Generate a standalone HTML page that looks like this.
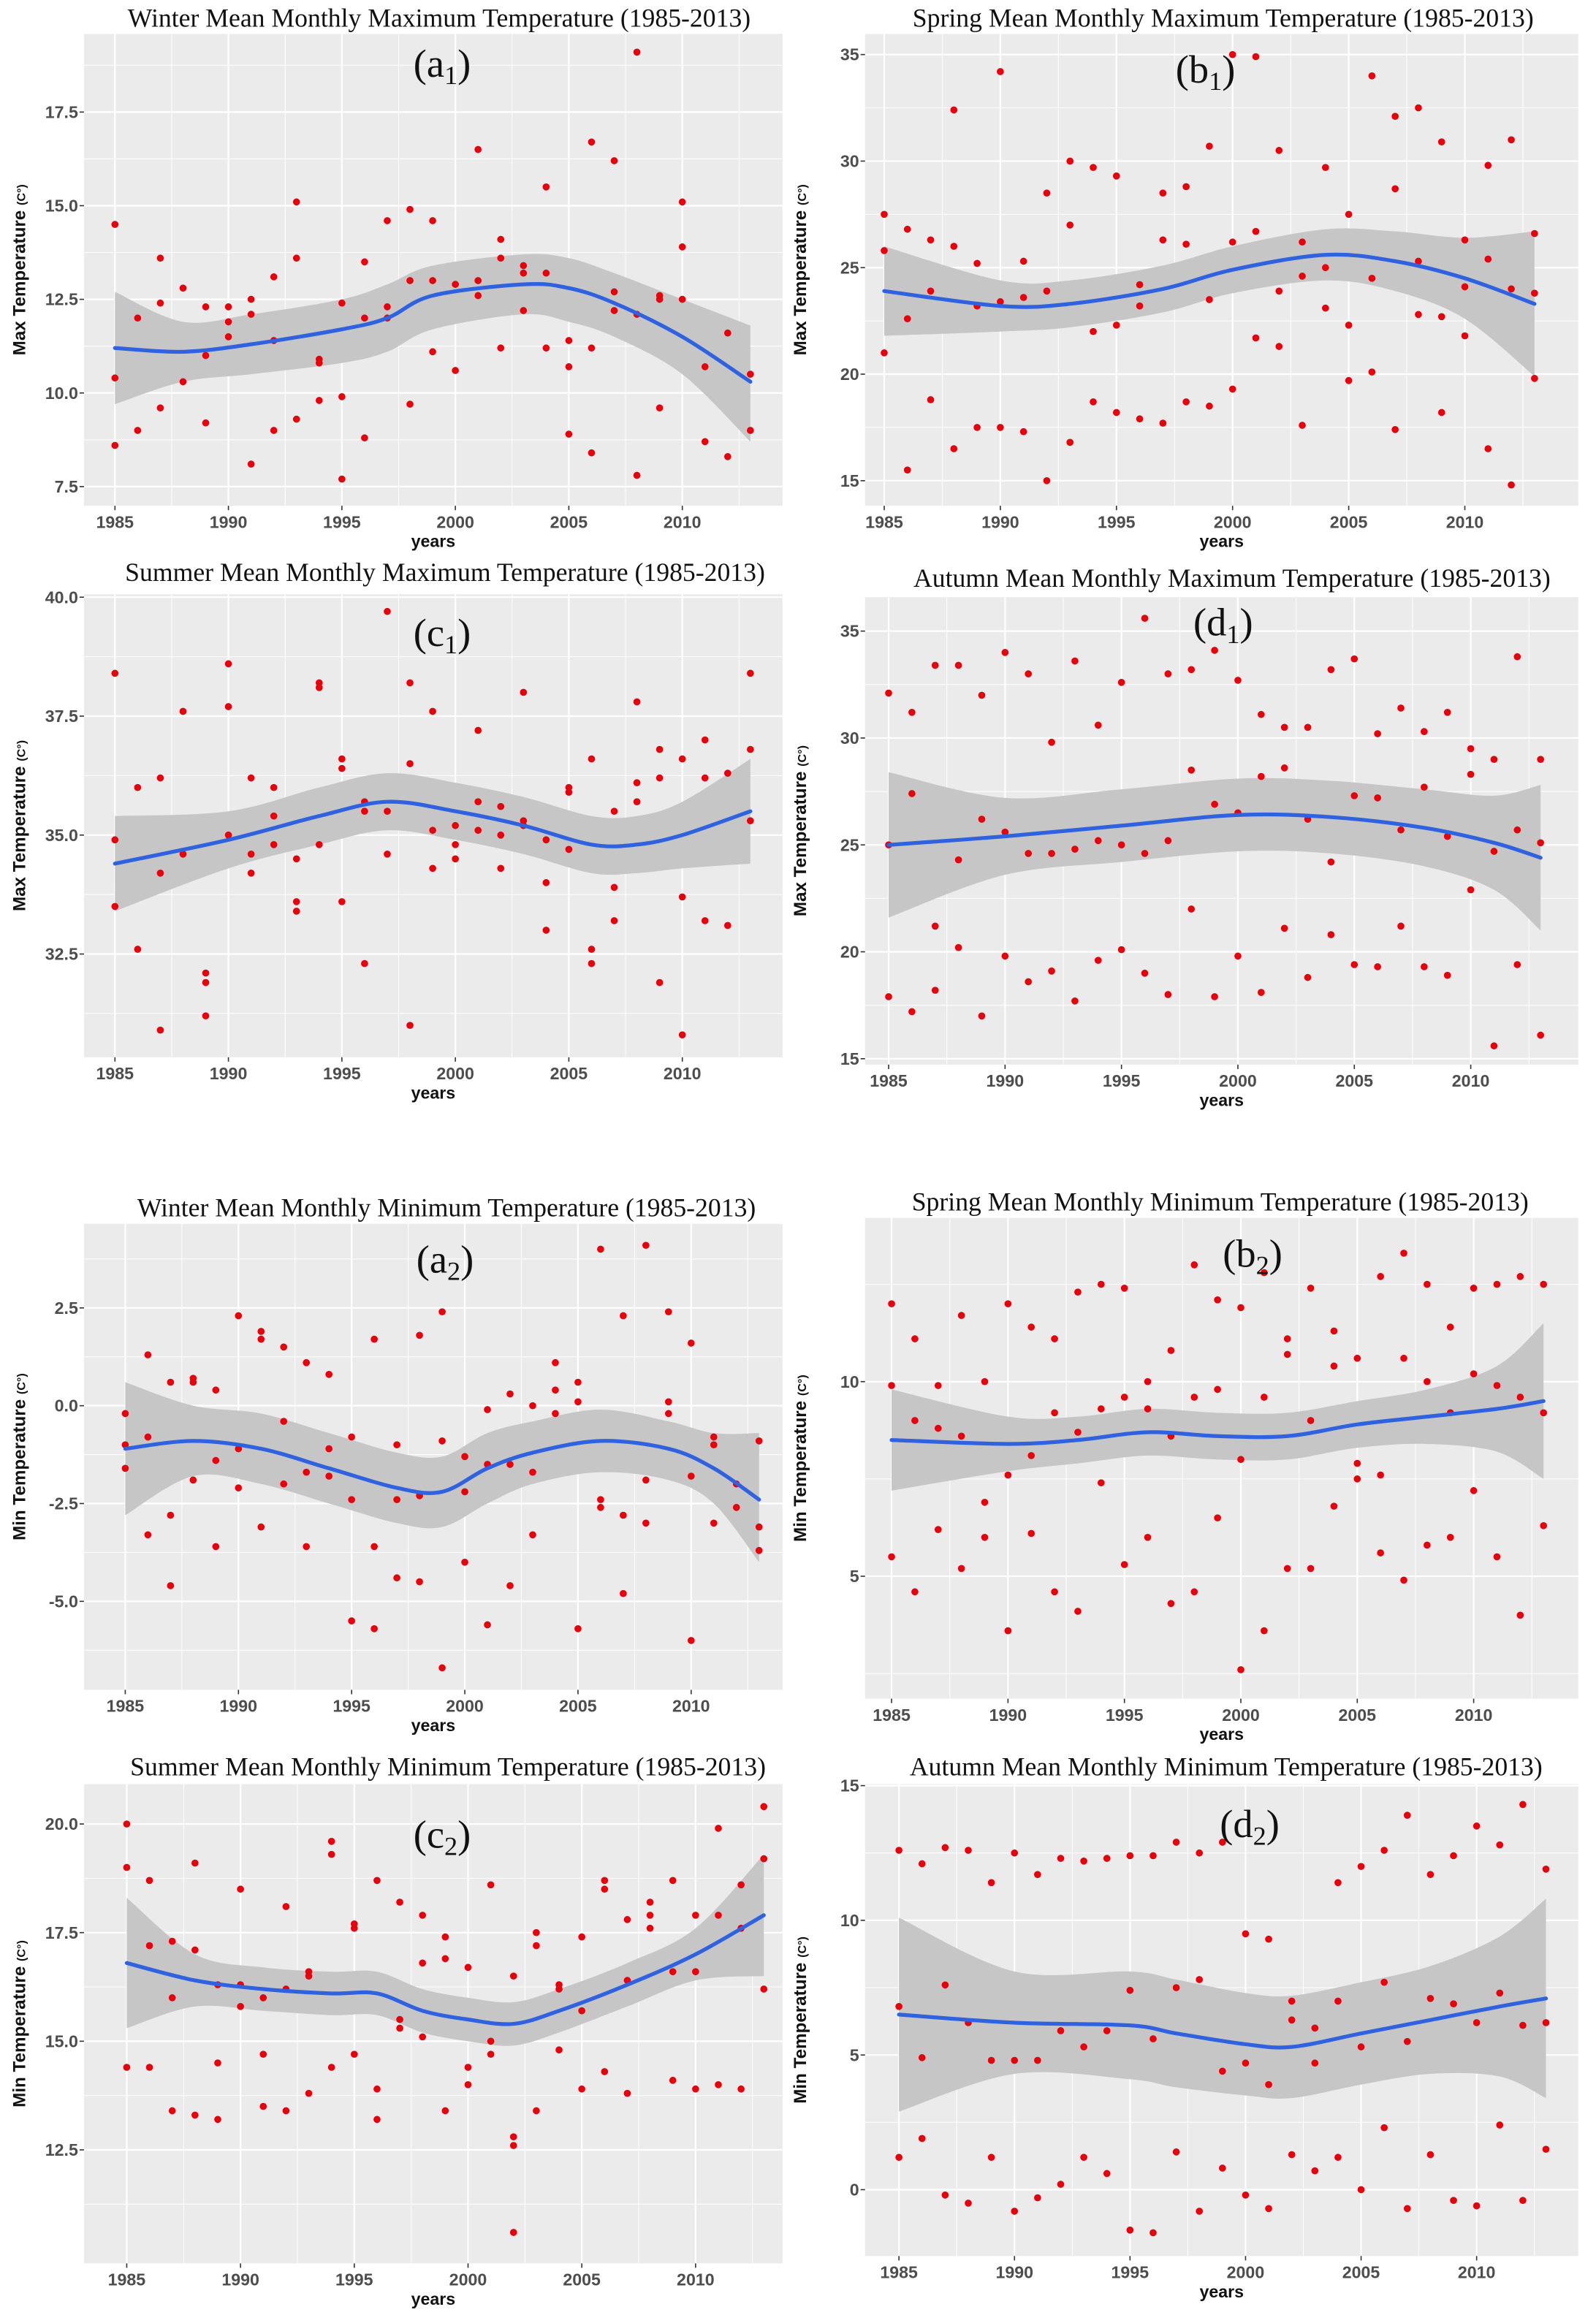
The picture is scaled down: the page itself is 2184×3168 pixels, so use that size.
<!DOCTYPE html>
<html><head><meta charset="utf-8">
<style>
html,body{margin:0;padding:0;background:#fff;}
svg{display:block;}
.title{font-family:"Liberation Serif",serif;font-size:17.7px;fill:#111;}
.plab{font-family:"Liberation Serif",serif;font-size:27px;fill:#111;}
.tick{font-family:"Liberation Sans",sans-serif;font-size:11.5px;font-weight:bold;fill:#4d4d4d;}
.axt{font-family:"Liberation Sans",sans-serif;font-size:11.5px;font-weight:bold;fill:#111;}
.yt{font-family:"Liberation Sans",sans-serif;font-size:12px;font-weight:bold;fill:#111;}
</style></head>
<body>
<svg id="fig" width="2184" height="3168" viewBox="0 0 1083 1570" preserveAspectRatio="none" xmlns="http://www.w3.org/2000/svg"></svg>
<script>
// ---- data (values per year, index = year-1985) ----
const years = [1985,1986,1987,1988,1989,1990,1991,1992,1993,1994,1995,1996,1997,1998,1999,2000,2001,2002,2003,2004,2005,2006,2007,2008,2009,2010,2011,2012,2013];
const a1Vals = [[14.5,10.4,8.6],[12.0,9.0],[13.6,12.4,9.6],[12.8,10.3],[12.3,11.0,9.2],[12.3,11.9,11.5],[12.5,12.1,8.1],[13.1,11.4,9.0],[15.1,13.6,9.3],[10.9,10.8,9.8],[12.4,9.9,7.7],[13.5,12.0,8.8],[14.6,12.3,12.0],[14.9,13.0,9.7],[14.6,13.0,11.1],[12.9,10.6],[16.5,13.0,12.6],[14.1,13.6,11.2],[13.4,13.2,12.2],[15.5,13.2,11.2],[11.4,10.7,8.9],[16.7,11.2,8.4],[16.2,12.7,12.2],[19.1,12.1,7.8],[12.6,12.5,9.6],[15.1,13.9,12.5],[10.7,8.7],[11.6,8.3],[10.5,9.0]];
const a1FitX = [1985,1988,1991,1995,1997,1999,2003,2005,2007,2010,2013];
const a1Fit  = [11.2,11.1,11.3,11.7,12.0,12.6,12.9,12.8,12.4,11.5,10.3];
const a1Lo   = [9.7,10.3,10.5,10.8,11.1,11.7,12.1,11.9,11.5,10.5,8.7];
const a1Hi   = [12.7,11.9,12.1,12.5,12.9,13.4,13.7,13.6,13.2,12.5,11.8];

const b1Vals = [[27.5,25.8,21.0],[26.8,22.6,15.5],[26.3,23.9,18.8],[32.4,26.0,16.5],[25.2,23.2,17.5],[34.2,23.4,17.5],[25.3,23.6,17.3],[28.5,23.9,15.0],[30.0,27.0,16.8],[29.7,22.0,18.7],[29.3,22.3,18.2],[24.2,23.2,17.9],[28.5,26.3,17.7],[28.8,26.1,18.7],[30.7,23.5,18.5],[35.0,26.2,19.3],[34.9,26.7,21.7],[30.5,23.9,21.3],[26.2,24.6,17.6],[29.7,25.0,23.1],[27.5,22.3,19.7],[34.0,24.5,20.1],[32.1,28.7,17.4],[32.5,25.3,22.8],[30.9,22.7,18.2],[26.3,24.1,21.8],[29.8,25.4,16.5],[31.0,24.0,14.8],[26.6,23.8,19.8]];
const b1FitX = [1985,1990,1993,1997,2000,2004,2007,2010,2013];
const b1Fit  = [23.9,23.2,23.3,24.0,24.9,25.6,25.3,24.5,23.3];
const b1Lo   = [21.8,22.0,22.2,22.9,23.8,24.4,23.9,22.6,19.9];
const b1Hi   = [26.0,24.4,24.4,25.1,26.0,26.8,26.7,26.4,26.7];

const c1Vals = [[38.4,34.9,33.5],[36.0,32.6],[36.2,34.2,30.9],[37.6,34.6],[32.1,31.9,31.2],[38.6,37.7,35.0],[36.2,34.6,34.2],[36.0,35.4,34.8],[34.5,33.6,33.4],[38.2,38.1,34.8],[36.6,36.4,33.6],[35.7,35.5,32.3],[39.7,35.5,34.6],[38.2,36.5,31.0],[37.6,35.1,34.3],[35.2,34.8,34.5],[37.2,35.7,35.1],[35.6,35.0,34.3],[38.0,35.3,35.2],[34.9,34.0,33.0],[36.0,35.9,34.7],[36.6,32.6,32.3],[35.5,33.9,33.2],[37.8,36.1,35.7],[36.8,36.2,31.9],[36.6,33.7,30.8],[37.0,36.2,33.2],[36.3,33.1],[38.4,36.8,35.3]];
const c1FitX = [1985,1990,1994,1997,2000,2003,2006,2008,2010,2013];
const c1Fit  = [34.4,34.9,35.4,35.7,35.5,35.2,34.8,34.8,35.0,35.5];
const c1Lo   = [33.4,34.3,34.8,35.1,34.9,34.6,34.2,34.2,34.3,34.4];
const c1Hi   = [35.4,35.5,36.0,36.3,36.1,35.8,35.4,35.4,35.7,36.6];

const d1Vals = [[32.1,25.0,17.9],[31.2,27.4,17.2],[33.4,21.2,18.2],[33.4,24.3,20.2],[32.0,26.2,17.0],[34.0,25.6,19.8],[33.0,24.6,18.6],[29.8,24.6,19.1],[33.6,24.8,17.7],[30.6,25.2,19.6],[32.6,25.0,20.1],[35.6,24.6,19.0],[33.0,25.2,18.0],[33.2,28.5,22.0],[34.1,26.9,17.9],[32.7,26.5,19.8],[31.1,28.2,18.1],[30.5,28.6,21.1],[30.5,26.2,18.8],[33.2,24.2,20.8],[33.7,27.3,19.4],[30.2,27.2,19.3],[31.4,25.7,21.2],[30.3,27.7,19.3],[31.2,25.4,18.9],[29.5,28.3,22.9],[29.0,24.7,15.6],[33.8,25.7,19.4],[29.0,25.1,16.1]];
const d1FitX = [1985,1990,1995,2000,2004,2008,2011,2013];
const d1Fit  = [25.0,25.4,25.9,26.4,26.3,25.8,25.1,24.4];
const d1Lo   = [21.6,23.6,24.2,24.7,24.6,24.0,22.9,21.0];
const d1Hi   = [28.4,27.2,27.6,28.1,28.0,27.6,27.3,27.8];

const a2Vals = [[-0.2,-1.0,-1.6],[1.3,-3.3,-0.8],[0.6,-2.8,-4.6],[0.7,-1.9,0.6],[0.4,-1.4,-3.6],[2.3,-1.1,-2.1],[1.9,1.7,-3.1],[1.5,-0.4,-2.0],[1.1,-1.7,-3.6],[0.8,-1.1,-1.8],[-0.8,-2.4,-5.5],[1.7,-3.6,-5.7],[-1.0,-2.4,-4.4],[1.8,-2.3,-4.5],[2.4,-0.9,-6.7],[-1.3,-2.2,-4.0],[-0.1,-1.5,-5.6],[0.3,-1.5,-4.6],[0.0,-1.7,-3.3],[1.1,0.4,-0.2],[0.6,0.1,-5.7],[4.0,-2.4,-2.6],[2.3,-2.8,-4.8],[4.1,-1.9,-3.0],[2.4,0.1,-0.2],[1.6,-1.8,-6.0],[-0.8,-1.0,-3.0],[-2.0,-2.6],[-0.9,-3.1,-3.7]];
const a2FitX = [1985,1988,1991,1994,1997,1999,2001,2003,2006,2009,2011,2013];
const a2Fit  = [-1.1,-0.9,-1.1,-1.6,-2.1,-2.2,-1.6,-1.2,-0.9,-1.1,-1.6,-2.4];
const a2Lo   = [-2.8,-1.8,-2.0,-2.5,-3.0,-3.1,-2.5,-2.0,-1.7,-1.9,-2.5,-4.0];
const a2Hi   = [0.6,0.0,-0.2,-0.7,-1.2,-1.3,-0.7,-0.4,-0.1,-0.4,-0.7,-0.7];

const b2Vals = [[12.0,9.9,5.5],[11.1,9.0,4.6],[9.9,8.8,6.2],[11.7,8.6,5.2],[10.0,6.9,6.0],[12.0,7.6,3.6],[11.4,8.1,6.1],[11.1,9.2,4.6],[12.3,8.7,4.1],[12.5,9.3,7.4],[12.4,9.6,5.3],[10.0,9.3,6.0],[10.8,8.6,4.3],[13.0,9.6,4.6],[12.1,9.8,6.5],[11.9,8.0,2.6],[12.8,9.6,3.6],[11.1,10.7,5.2],[12.4,9.0,5.2],[11.3,10.4,6.8],[10.6,7.9,7.5],[12.7,7.6,5.6],[13.3,10.6,4.9],[12.5,10.0,5.8],[11.4,9.2,6.0],[12.4,10.2,7.2],[12.5,9.9,5.5],[12.7,9.6,4.0],[12.5,9.2,6.3]];
const b2FitX = [1985,1990,1993,1996,1999,2002,2005,2008,2011,2013];
const b2Fit  = [8.5,8.4,8.5,8.7,8.6,8.6,8.9,9.1,9.3,9.5];
const b2Lo   = [7.2,7.7,7.9,8.1,8.0,8.0,8.3,8.4,8.2,7.5];
const b2Hi   = [9.8,9.1,9.1,9.3,9.2,9.2,9.5,9.8,10.4,11.5];

const c2Vals = [[20.0,19.0,14.4],[18.7,17.2,14.4],[17.3,16.0,13.4],[19.1,17.1,13.3],[16.3,14.5,13.2],[18.5,16.3,15.8],[16.0,14.7,13.5],[18.1,16.2,13.4],[16.6,16.5,13.8],[19.6,19.3,14.4],[17.7,17.6,14.7],[18.7,13.9,13.2],[18.2,15.5,15.3],[17.9,16.8,15.1],[17.4,16.9,13.4],[16.7,14.4,14.0],[18.6,14.7,15.0],[16.5,12.8,12.6,10.6],[17.5,17.2,13.4],[16.3,16.2,14.8],[17.4,15.7,13.9],[18.7,18.5,14.3],[17.8,16.4,13.8],[18.2,17.9,17.6],[18.7,16.6,14.1],[17.9,16.6,13.9],[19.9,17.9,14.0],[18.6,17.6,13.9],[20.4,19.2,16.2]];
const c2FitX = [1985,1988,1991,1994,1996,1998,2000,2002,2004,2007,2010,2013];
const c2Fit  = [16.8,16.4,16.2,16.1,16.1,15.7,15.5,15.4,15.7,16.3,17.0,17.9];
const c2Lo   = [15.3,15.8,15.7,15.6,15.6,15.2,15.0,14.9,15.2,15.8,16.4,16.5];
const c2Hi   = [18.3,17.0,16.7,16.6,16.6,16.2,16.0,15.9,16.2,16.8,17.6,19.3];

const d2Vals = [[12.6,6.8,1.2],[12.1,4.9,1.9],[12.7,7.6,-0.2],[12.6,6.2,-0.5],[11.4,4.8,1.2],[12.5,4.8,-0.8],[11.7,4.8,-0.3],[12.3,5.9,0.2],[12.2,5.3,1.2],[12.3,5.9,0.6],[12.4,7.4,-1.5],[12.4,5.6,-1.6],[12.9,7.5,1.4],[12.5,7.8,-0.8],[12.9,4.4,0.8],[9.5,4.7,-0.2],[9.3,3.9,-0.7],[7.0,6.3,1.3],[6.0,4.7,0.7],[11.4,7.0,1.2],[12.0,5.3,0.0],[12.6,7.7,2.3],[13.9,5.5,-0.7],[11.7,7.1,1.3],[12.4,6.9,-0.4],[13.5,6.2,-0.6],[12.8,7.3,2.4],[14.3,6.1,-0.4],[11.9,6.2,1.5]];
const d2FitX = [1985,1990,1995,1997,2000,2002,2005,2008,2011,2013];
const d2Fit  = [6.5,6.2,6.1,5.8,5.4,5.3,5.8,6.3,6.8,7.1];
const d2Lo   = [2.9,4.3,4.1,3.8,3.5,3.4,3.9,4.3,4.2,3.4];
const d2Hi   = [10.1,8.1,8.1,7.8,7.3,7.2,7.7,8.3,9.4,10.8];

// ---- tick labels ----
const xTicks = [1985,1990,1995,2000,2005,2010];
const a1Ticks = [7.5,10.0,12.5,15.0,17.5];
const b1Ticks = [15,20,25,30,35];
const c1Ticks = [32.5,35.0,37.5,40.0];
const d1Ticks = [15,20,25,30,35];
const a2Ticks = [-5.0,-2.5,0.0,2.5];
const b2Ticks = [5,10];
const c2Ticks = [12.5,15.0,17.5,20.0];
const d2Ticks = [0,5,10,15];

const NS = "http://www.w3.org/2000/svg";
const fig = document.getElementById('fig');
function mk(tag, attrs, parent){const e=document.createElementNS(NS,tag);for(const k in attrs)e.setAttribute(k,attrs[k]);(parent||fig).appendChild(e);return e;}

function smoothPath(pts){
  let d = 'M'+pts[0][0]+','+pts[0][1];
  for(let i=0;i<pts.length-1;i++){
    const p0=pts[Math.max(0,i-1)],p1=pts[i],p2=pts[i+1],p3=pts[Math.min(pts.length-1,i+2)];
    const c1=[p1[0]+(p2[0]-p0[0])/6,p1[1]+(p2[1]-p0[1])/6];
    const c2=[p2[0]-(p3[0]-p1[0])/6,p2[1]-(p3[1]-p1[1])/6];
    d+=' C'+c1[0]+','+c1[1]+' '+c2[0]+','+c2[1]+' '+p2[0]+','+p2[1];
  }
  return d;
}
function smoothCont(pts){ return smoothPath(pts).replace(/^M/,'L'); }

function panel(cfg){
  const g = mk('g',{});
  
  
  const X = y => cfg.x85 + (y-1985)*(cfg.x10-cfg.x85)/25;
  const Y = v => cfg.py1 + (v-cfg.v1)*(cfg.py2-cfg.py1)/(cfg.v2-cfg.v1);
  const bg = mk('rect',{x:cfg.L,y:cfg.T,width:cfg.R-cfg.L,height:cfg.B-cfg.T,fill:'#ebebeb'},g);
  
  
  const step = cfg.ticks[1]-cfg.ticks[0];
  for(let v=cfg.ticks[0]-step/2; v<=cfg.ticks[cfg.ticks.length-1]+step; v+=step){
    const py=Y(v); if(py>cfg.T&&py<cfg.B) mk('line',{x1:cfg.L,x2:cfg.R,y1:py,y2:py,stroke:'#fff','stroke-width':0.5},g);
  }
  for(let yr=1982.5; yr<=2015; yr+=5){const px=X(yr); if(px>cfg.L&&px<cfg.R) mk('line',{x1:px,x2:px,y1:cfg.T,y2:cfg.B,stroke:'#fff','stroke-width':0.5},g);}
  cfg.ticks.forEach(v=>{
    const py=Y(v);
    if(py>=cfg.T-1&&py<=cfg.B) mk('line',{x1:cfg.L,x2:cfg.R,y1:py,y2:py,stroke:'#fff','stroke-width':1.1},g);
    mk('line',{x1:cfg.L-3,x2:cfg.L,y1:py,y2:py,stroke:'#333','stroke-width':0.8},g);
    const t=mk('text',{x:cfg.L-4,y:py+4,'text-anchor':'end',class:'tick'},g);
    t.textContent = cfg.fmt(v);
    
    
  });
  xTicks.forEach(yr=>{
    const px=X(yr);
    mk('line',{x1:px,x2:px,y1:cfg.T,y2:cfg.B,stroke:'#fff','stroke-width':1.1},g);
    mk('line',{x1:px,x2:px,y1:cfg.B,y2:cfg.B+3,stroke:'#333','stroke-width':0.8},g);
    const t=mk('text',{x:px,y:cfg.B+15,'text-anchor':'middle',class:'tick'},g);
    t.textContent = yr;
    
    
  });
  const up = cfg.fx.map((yr,i)=>[X(yr),Y(cfg.hi[i])]);
  const lo = cfg.fx.map((yr,i)=>[X(yr),Y(cfg.lo[i])]).reverse();
  const band = mk('path',{d:smoothPath(up)+' '+smoothCont(lo)+' Z',fill:'#c6c6c6'},g);
  
  
  cfg.vals.forEach((arr,i)=>{ arr.forEach(v=>{
    const c = mk('circle',{cx:X(years[i]),cy:Y(v),r:2.4,fill:'#e8000b'},g);
    
    
  });});
  const fit = cfg.fx.map((yr,i)=>[X(yr),Y(cfg.fit[i])]);
  const ln = mk('path',{d:smoothPath(fit),fill:'none',stroke:'#2f62e0','stroke-width':2.6,'stroke-linecap':'round'},g);
  
  
  const tt = mk('text',{x:cfg.tx,y:cfg.ty,'text-anchor':'middle',class:'title'},g);
  tt.textContent = cfg.title;
  
  
  const pl = mk('text',{x:cfg.lx,y:cfg.ly,'text-anchor':'middle',class:'plab'},g);
  
  
  const s1 = mk('tspan',{},pl); s1.textContent='('+cfg.letter;
  const s2 = mk('tspan',{'font-size':'18','dy':'5'},pl); s2.textContent=cfg.sub;
  const s3 = mk('tspan',{'dy':'-5'},pl); s3.textContent=')';
  const xt = mk('text',{x:(cfg.L+cfg.R)/2,y:cfg.B+28,'text-anchor':'middle',class:'axt'},g);
  xt.textContent='years';
  
  
  const cy=(cfg.T+cfg.B)/2;
  const yt = mk('text',{x:0,y:0,'text-anchor':'middle',class:'yt',transform:'translate('+(cfg.L-40)+','+cy+') rotate(-90)'},g);
  
  
  const y1=mk('tspan',{},yt); y1.textContent=cfg.ylab+' ';
  const y2=mk('tspan',{'font-size':'8'},yt); y2.textContent='(C°)';
}
const f1 = v=>v.toFixed(1), f0 = v=>String(v);
panel({id:'a1',L:57,R:531,T:23,B:343,x85:78,x10:463,v1:17.5,py1:76,v2:7.5,py2:330,ticks:a1Ticks,fmt:f1,vals:a1Vals,fx:a1FitX,fit:a1Fit,lo:a1Lo,hi:a1Hi,title:'Winter Mean Monthly Maximum Temperature  (1985-2013)',tx:298,ty:18,letter:'a',sub:'1',lx:300,ly:52,ylab:'Max Temperature'});
panel({id:'b1',L:587,R:1071,T:23,B:343,x85:600,x10:994,v1:35,py1:37,v2:15,py2:326,ticks:b1Ticks,fmt:f0,vals:b1Vals,fx:b1FitX,fit:b1Fit,lo:b1Lo,hi:b1Hi,title:'Spring Mean Monthly Maximum Temperature  (1985-2013)',tx:830,ty:18,letter:'b',sub:'1',lx:818,ly:56,ylab:'Max Temperature'});
panel({id:'c1',L:57,R:531,T:403,B:717,x85:78,x10:463,v1:40,py1:405,v2:32.5,py2:647,ticks:c1Ticks,fmt:f1,vals:c1Vals,fx:c1FitX,fit:c1Fit,lo:c1Lo,hi:c1Hi,title:'Summer Mean Monthly Maximum Temperature  (1985-2013)',tx:302,ty:394,letter:'c',sub:'1',lx:300,ly:438,ylab:'Max Temperature'});
panel({id:'d1',L:587,R:1071,T:405,B:722,x85:603,x10:998,v1:35,py1:428,v2:15,py2:718,ticks:d1Ticks,fmt:f0,vals:d1Vals,fx:d1FitX,fit:d1Fit,lo:d1Lo,hi:d1Hi,title:'Autumn Mean Monthly Maximum Temperature  (1985-2013)',tx:836,ty:398,letter:'d',sub:'1',lx:830,ly:431,ylab:'Max Temperature'});
panel({id:'a2',L:57,R:531,T:830,B:1146,x85:85,x10:469,v1:2.5,py1:887,v2:-5,py2:1086,ticks:a2Ticks,fmt:f1,vals:a2Vals,fx:a2FitX,fit:a2Fit,lo:a2Lo,hi:a2Hi,title:'Winter Mean Monthly Minimum Temperature  (1985-2013)',tx:303,ty:825,letter:'a',sub:'2',lx:302,ly:863,ylab:'Min Temperature'});
panel({id:'b2',L:587,R:1071,T:826,B:1152,x85:605,x10:1000,v1:10,py1:937,v2:5,py2:1069,ticks:b2Ticks,fmt:f0,vals:b2Vals,fx:b2FitX,fit:b2Fit,lo:b2Lo,hi:b2Hi,title:'Spring Mean Monthly Minimum Temperature  (1985-2013)',tx:828,ty:821,letter:'b',sub:'2',lx:850,ly:859,ylab:'Min Temperature'});
panel({id:'c2',L:57,R:531,T:1210,B:1535,x85:86,x10:472,v1:20,py1:1237,v2:12.5,py2:1458,ticks:c2Ticks,fmt:f1,vals:c2Vals,fx:c2FitX,fit:c2Fit,lo:c2Lo,hi:c2Hi,title:'Summer Mean Monthly Minimum Temperature  (1985-2013)',tx:304,ty:1204,letter:'c',sub:'2',lx:300,ly:1253,ylab:'Min Temperature'});
panel({id:'d2',L:587,R:1071,T:1210,B:1530,x85:610,x10:1002,v1:15,py1:1211,v2:0,py2:1485,ticks:d2Ticks,fmt:f0,vals:d2Vals,fx:d2FitX,fit:d2Fit,lo:d2Lo,hi:d2Hi,title:'Autumn Mean Monthly Minimum Temperature  (1985-2013)',tx:832,ty:1204,letter:'d',sub:'2',lx:848,ly:1246,ylab:'Min Temperature'});
</script>
</body></html>
